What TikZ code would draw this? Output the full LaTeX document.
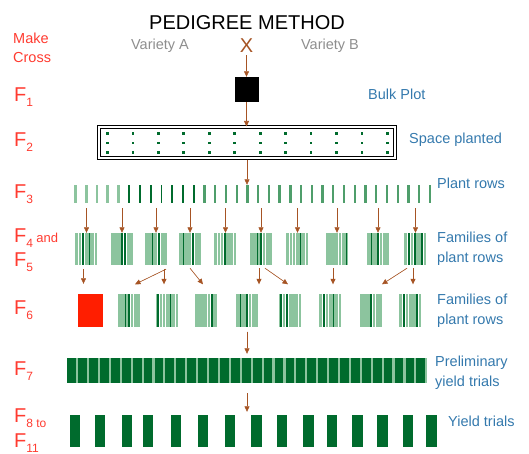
\documentclass[tikz,border=0pt]{standalone}
\usepackage{fontspec}
\setmainfont{Liberation Sans}
\usetikzlibrary{arrows.meta, calc}
\definecolor{genred}{HTML}{FF3B30}
\definecolor{noteblue}{HTML}{3479AD}
\definecolor{parentgray}{HTML}{8E8E8E}
\definecolor{crossbrown}{HTML}{A65424}
\definecolor{plantdark}{HTML}{006B2D}
\definecolor{plantmid}{HTML}{4F9E6B}
\definecolor{plantlight}{HTML}{8CC49E}
\definecolor{plotred}{HTML}{FF1E00}

\newcommand{\gsub}[1]{\raisebox{-5pt}{\fontsize{12}{12}\selectfont #1}}

% one family of plant rows: name, centre, dark stripes
\newcommand{\plantfamily}[3]{%
  \node[fam] (#1) at (#2) {};
  \foreach \k in {0,...,6}
    \fill[plantlight] ($(#1.north west)+(\k*3.2+0.2,0)$) rectangle ($(#1.south west)+(\k*3.2+2.9,0)$);
  \foreach \k in {#3}
    \fill[plantdark] ($(#1.north west)+(\k*3.2+0.7,0)$) rectangle ($(#1.south west)+(\k*3.2+2.4,0)$);
}

\begin{document}
\begin{tikzpicture}[
    x=1pt, y=-1pt,
    every node/.style={inner sep=0pt},
    title/.style={font=\fontsize{20}{24}\selectfont},
    gen/.style={anchor=base west, text=genred, font=\fontsize{20}{24}\selectfont},
    note/.style={anchor=west, align=left, text=noteblue, font=\fontsize{14.5}{20}\selectfont},
    parent/.style={text=parentgray, font=\fontsize{14.5}{18}\selectfont},
    cross/.style={text=crossbrown, font=\fontsize{20}{24}\selectfont},
    bulk/.style={rectangle, fill=black, minimum width=24pt, minimum height=25pt},
    spaced/.style={rectangle, draw=black, double=white, double distance=1.3pt,
      line width=1.1pt, minimum width=296pt, minimum height=31pt},
    rowbox/.style={rectangle, minimum width=357pt, minimum height=18pt},
    fam/.style={rectangle, minimum width=22.4pt, minimum height=32pt},
    redplot/.style={rectangle, fill=plotred, minimum width=25pt, minimum height=33pt},
    prelim/.style={rectangle, fill=plantlight, minimum width=360pt, minimum height=25pt},
    trial/.style={rectangle, fill=plantdark, minimum width=10.5pt, minimum height=32pt},
    arr/.style={-{Triangle[length=5.5pt,width=5pt]}, draw=crossbrown, fill=crossbrown, line width=0.6pt},
  ]
  \useasboundingbox (0,0) rectangle (529,453);

  % ============ Title and cross ============
  \node[title] (title) at (247,22.5) {PEDIGREE METHOD};
  \node[gen, anchor=west, align=left, font=\fontsize{14.5}{19}\selectfont] (mk) at (13,47.5) {Make\\Cross};
  \node[parent] (pa) at (160,46) {Variety A};
  \node[cross]  (x)  at (246.5,46) {X};
  \node[parent] (pb) at (330,46) {Variety B};

  % ============ Generation labels ============
  \node[gen] (g1)  at (14,101) {F\gsub{1}};
  \node[gen] (g2)  at (14,146) {F\gsub{2}};
  \node[gen] (g3)  at (14,198) {F\gsub{3}};
  \node[gen] (g4)  at (14,242) {F\gsub{4}\,{\fontsize{13}{13}\selectfont and}};
  \node[gen] (g5)  at (14,266) {F\gsub{5}};
  \node[gen] (g6)  at (14,314) {F\gsub{6}};
  \node[gen] (g7)  at (14,375) {F\gsub{7}};
  \node[gen] (g8)  at (14,422) {F\gsub{8 to}};
  \node[gen] (g11) at (14,447) {F\gsub{11}};

  % ============ Notes ============
  \node[note] (n1) at (368,94.5)  {Bulk Plot};
  \node[note] (n2) at (409,139.5) {Space planted};
  \node[note] (n3) at (437,183)   {Plant rows};
  \node[note] (n4) at (437,249)   {Families of\\plant rows};
  \node[note] (n6) at (437,311)   {Families of\\plant rows};
  \node[note] (n7) at (435,372.5) {Preliminary\\yield trials};
  \node[note] (n8) at (448,421.5) {Yield trials};

  % ============ F1 and F2 ============
  \node[bulk] (f1box) at (246.5,89.5) {};
  \node[spaced] (f2box) at (247,142.5) {};
  \foreach \c in {0,...,11}
    \foreach \r in {7,16.5,26}
      \fill[plantdark] ($(f2box.north west)+(7.6+\c*25.45,\r-1.4)$) rectangle ++(2.8,2.8);

  % ============ F3 plant rows ============
  \node[rowbox] (r3) at (252.9,194) {};
  \foreach \i in {0,...,4}
    \fill[plantlight] ($(r3.north west)+(\i*10.74,0)$) rectangle ++(2.6,18);
  \foreach \i in {5,...,11}
    \fill[plantdark] ($(r3.north west)+(\i*10.74+0.4,0)$) rectangle ++(1.9,18);
  \foreach \i in {12,...,33}
    \fill[plantmid] ($(r3.north west)+(\i*10.74+0.2,0)$) rectangle ++(2.3,18);

  % ============ F4 and F5 families ============
  \plantfamily{fam1}{86.5,249}{2,4}
  \plantfamily{fam2}{122,249}{3,4}
  \plantfamily{fam3}{156,249}{2,4}
  \plantfamily{fam4}{190,249}{1,4}
  \plantfamily{fam5}{225.5,249}{3}
  \plantfamily{fam6}{261,249}{2,3}
  \plantfamily{fam7}{297.5,249}{4}
  \plantfamily{fam8}{337,249}{6}
  \plantfamily{fam9}{378,249}{1,3}
  \plantfamily{fam10}{415.5,249}{1,3,5}

  % ============ F6 families ============
  \node[redplot] (six0) at (90.5,310.5) {};
  \plantfamily{six1}{129,310.5}{2,3}
  \plantfamily{six2}{167.5,310.5}{0,4}
  \plantfamily{six3}{206,310.5}{5}
  \plantfamily{six4}{247,310.5}{1,3}
  \plantfamily{six5}{290.5,310.5}{0,2}
  \plantfamily{six6}{330.5,310.5}{1,4}
  \plantfamily{six7}{371,310.5}{3}
  \plantfamily{six8}{410.5,310.5}{1,5}

  % ============ F7 preliminary trials ============
  \node[prelim] (r7) at (247,370.5) {};
  \foreach \i in {0,...,32}
    \fill[plantdark] ($(r7.north west)+(\i*10.91+0.5,0)$) rectangle ++(8.8,25);

  % ============ F8 to F11 yield trials ============
  \foreach \xc [count=\n] in {75,100,127,148,176,203,230,256.5,282,308.5,332,357.5,382.5,408,431.5}
    \node[trial] (t\n) at (\xc,431) {};

  % ============ Arrows ============
  \draw[arr, shorten <=2pt] (x.south) -- (f1box.north);
  \draw[arr] (f1box.south) -- (f1box.south |- f2box.north);
  \draw[arr, shorten <=1pt] (f2box.south) -- (f2box.south |- r3.north);

  % F3 -> families
  \foreach \n in {1,...,10}
    \draw[arr, shorten <=5pt] (r3.south -| fam\n.north) -- (fam\n.north);

  % families -> F6
  \draw[arr] ($(fam1.south)+(-3,4)$)   -- ($(six0.north -| fam1.south)+(-3,-10)$);
  \draw[arr] ($(fam3.south)+(10,4)$)   -- ($(six1.north)+(6,-10)$);
  \draw[arr] ($(fam3.south)+(8,4)$)    -- ($(six2.north -| fam3.south)+(8,-10)$);
  \draw[arr] ($(fam4.south)+(0,3)$)    -- ($(six3.north)+(-3,-10)$);
  \draw[arr] ($(fam6.south)+(-2,3)$)   -- ($(six4.north -| fam6.south)+(-2,-10)$);
  \draw[arr] ($(fam6.south)+(4,3)$)    -- ($(six5.north)+(-2.5,-10)$);
  \draw[arr] ($(fam8.south)+(-4,3)$)   -- ($(six6.north -| fam8.south)+(-4,-10)$);
  \draw[arr] ($(fam10.south)+(-8.5,3)$) -- ($(six7.north)+(11,-10)$);
  \draw[arr] ($(fam10.south)+(-2.5,3)$) -- ($(six8.north -| fam10.south)+(-2.5,-10)$);

  % F6 -> F7 -> F8
  \draw[arr, shorten <=5pt, shorten >=4pt] (six4.south) -- (six4.south |- r7.north);
  \draw[arr, shorten <=10pt, shorten >=3pt] (r7.south) -- (r7.south |- t1.north);

\end{tikzpicture}
\end{document}
